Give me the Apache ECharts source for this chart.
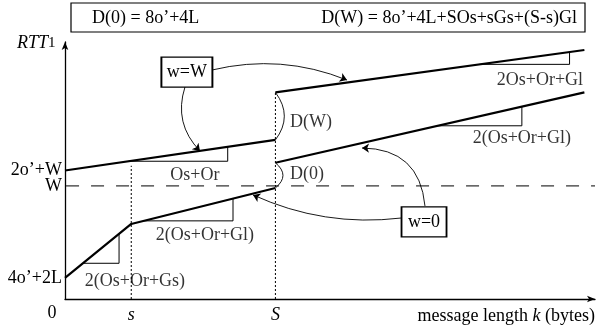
<!DOCTYPE html>
<html><head><meta charset="utf-8">
<script src="https://cdn.jsdelivr.net/npm/echarts@6/dist/echarts.min.js"></script>
<style>html,body{margin:0;padding:0;background:#fff}#c{width:597px;height:331px}</style>
</head><body><div id="c"></div>
<script>
const FONT = "'Liberation Serif','Times New Roman',serif";

// axis ticks
const xTickValues = [12.5, 39.7];
const xTickLabels = ['s', 'S'];
const yTickValues = [8.2, 44.0];
const yTickLabels = ['4o\u2019+2L', 'W'];
const yTickValuesUpper = [50.0];
const yTickLabelsUpper = ['2o\u2019+W'];

// curves: w = 0 (lower) and w = W (upper)
const lowerBeforeS = [[0, 8.2], [12.5, 29.2], [39.7, 43.2]];
const lowerAfterS  = [[39.7, 53.0], [98, 80.4]];
const upperBeforeS = [[0, 50.0], [39.7, 61.9]];
const upperAfterS  = [[39.7, 80.4], [98, 96.9]];
const wLine = [[0.2, 44.0], [100, 44.0]];
const dropS_small = [[12.5, 0], [12.5, 51.8]];
const dropS_large = [[39.7, 0], [39.7, 80.4]];

// slope triangles
const slopeTriangles = [
  [[3.4, 13.9], [10.2, 13.9], [10.2, 25.3]],
  [[14.8, 30.4], [31.7, 30.4], [31.7, 39.1]],
  [[12.0, 53.6], [30.7, 53.6], [30.7, 59.2]],
  [[70.3, 67.4], [86.2, 67.4], [86.2, 74.8]],
  [[78.2, 91.3], [95.2, 91.3], [95.2, 96.1]]
];
const slopeLabels = ['2(Os+Or+Gs)', '2(Os+Or+Gl)', 'Os+Or', '2(Os+Or+Gl)', '2Os+Or+Gl'];
const slopeLabelPos = [[13.2, 7.0], [26.4, 24.9], [24.5, 48.2], [86.2, 62.6], [89.6, 85.2]];

// jump braces at S
const braceLabels = ['D(W)', 'D(0)'];
const braceCoords = [[[39.7, 80.4], [39.7, 61.9]], [[39.7, 53.0], [39.7, 43.2]]];
const braceCurve = [0.375, 0.6];
const braceLabelPos = [[42.45, 68.9], [42.45, 48.6]];

// boxes and arrows
const boxLabels = ['w=W', 'w=0'];
const boxPos = [[23.0, 88.3], [67.74, 30.0]];
const boxSize = [[51, 30], [45, 30]];
const arrowCoords = [
  [[27.74, 89.1], [53.2, 85.2]],
  [[22.64, 82.5], [25.47, 57.6]],
  [[63.4, 31.5], [35.47, 40.5]],
  [[67.92, 36.2], [56.04, 58.75]]
];
const arrowCurve = [0.16, -0.3, 0.14, -0.45];

const chart = echarts.init(document.getElementById('c'), null, {renderer: 'canvas'});
const thick = {color: '#000', width: 2.2};
const thin = {color: '#000', width: 1};

function lineSeries(data, style, z) {
  return {type: 'line', data: data, symbol: 'none', lineStyle: style, z: z || 2, silent: true, animation: false};
}

const series = [
  lineSeries(lowerBeforeS, thick, 3),
  lineSeries(lowerAfterS, thick, 3),
  lineSeries(upperBeforeS, thick, 3),
  lineSeries(upperAfterS, thick, 3),
  lineSeries(wLine, {color: '#000', width: 1, type: [13, 12]}, 1),
  lineSeries(dropS_small, {color: '#000', width: 1, type: [2, 2]}, 1),
  lineSeries(dropS_large, {color: '#000', width: 1, type: [2, 2]}, 1)
];
slopeTriangles.forEach(t => series.push(lineSeries(t, thin, 2)));
series.push({
  type: 'lines', coordinateSystem: 'cartesian2d', silent: true, animation: false,
  symbol: ['none', 'arrow'], symbolSize: 7, z: 4,
  lineStyle: {color: '#000', width: 0.9, opacity: 1},
  data: arrowCoords.map((c, i) => ({coords: c, lineStyle: {curveness: arrowCurve[i]}}))
});
series.push({
  type: 'lines', coordinateSystem: 'cartesian2d', silent: true, animation: false,
  symbol: 'none', z: 4,
  lineStyle: {color: '#000', width: 0.9, opacity: 1},
  data: braceCoords.map((c, i) => ({coords: c, lineStyle: {curveness: braceCurve[i]}}))
});
series.push({
  type: 'scatter', symbolSize: 0, silent: true, animation: false, z: 5,
  label: {show: true, position: 'inside', formatter: '{b}', color: '#000', fontFamily: FONT, fontSize: 18},
  data: slopeLabels.map((t, i) => ({name: t, value: slopeLabelPos[i]}))
    .concat(braceLabels.map((t, i) => ({name: t, value: braceLabelPos[i], label: {position: 'right', distance: 0}})))
});
series.push({
  type: 'scatter', symbol: 'rect', silent: true, animation: false, z: 6,
  itemStyle: {color: '#fff', borderColor: '#000', borderWidth: 1.5, opacity: 1},
  label: {show: true, position: 'inside', formatter: '{b}', color: '#000', fontFamily: FONT, fontSize: 18},
  data: boxLabels.map((t, i) => ({name: t, value: boxPos[i], symbolSize: boxSize[i]}))
});

function lookup(vals, labels, v) {
  for (let i = 0; i < vals.length; i++) if (Math.abs(vals[i] - v) < 1e-6) return labels[i];
  return '';
}

const yLabelStyle = {margin: 3, color: '#000', fontFamily: FONT, fontSize: 18, hideOverlap: false};

const option = {
  animation: false,
  backgroundColor: '#fff',
  grid: {left: 65, right: 2, top: 42, bottom: 32, containLabel: false},
  xAxis: {
    type: 'value', min: 0, max: 100,
    axisLine: {show: true, lineStyle: {color: '#000', width: 1.3}, symbol: ['none', 'arrow'], symbolSize: [5, 8]},
    axisTick: {show: false}, splitLine: {show: false},
    axisLabel: {customValues: xTickValues, margin: 7, color: '#000', fontFamily: FONT, fontSize: 18, fontStyle: 'italic',
      formatter: v => lookup(xTickValues, xTickLabels, v)}
  },
  yAxis: [{
    type: 'value', min: 0, max: 100,
    axisLine: {show: true, lineStyle: {color: '#000', width: 1.3}, symbol: ['none', 'arrow'], symbolSize: [5, 8]},
    axisTick: {show: false}, splitLine: {show: false},
    axisLabel: Object.assign({customValues: yTickValues, formatter: v => lookup(yTickValues, yTickLabels, v)}, yLabelStyle)
  }, {
    type: 'value', min: 0, max: 100, position: 'left', offset: 0,
    axisLine: {show: false}, axisTick: {show: false}, splitLine: {show: false},
    axisLabel: Object.assign({customValues: yTickValuesUpper, formatter: v => lookup(yTickValuesUpper, yTickLabelsUpper, v)}, yLabelStyle)
  }],
  graphic: [
    {type: 'rect', z: 10, shape: {x: 71, y: 3, width: 514, height: 29}, style: {fill: '#fff', stroke: '#000', lineWidth: 1.2}},
    {type: 'text', z: 11, x: 92, y: 18, style: {text: 'D(0) = 8o\u2019+4L', fill: '#000', font: '18px ' + FONT, verticalAlign: 'middle', align: 'left'}},
    {type: 'text', z: 11, x: 577, y: 18, style: {text: 'D(W) = 8o\u2019+4L+SOs+sGs+(S-s)Gl', fill: '#000', font: '18px ' + FONT, verticalAlign: 'middle', align: 'right'}},
    {type: 'text', z: 11, x: 17, y: 43, style: {text: '{i|RTT}{n|1}', verticalAlign: 'middle', align: 'left',
      rich: {i: {fontFamily: FONT, fontSize: 18, fontStyle: 'italic', fill: '#000'}, n: {fontFamily: FONT, fontSize: 15, fill: '#000'}}}},
    {type: 'text', z: 11, x: 52, y: 313, style: {text: '0', fill: '#000', font: '18px ' + FONT, verticalAlign: 'middle', align: 'center'}},
    {type: 'text', z: 11, x: 595, y: 316, style: {text: '{n|message length }{i|k}{n| (bytes)}', verticalAlign: 'middle', align: 'right',
      rich: {i: {fontFamily: FONT, fontSize: 18, fontStyle: 'italic', fill: '#000'}, n: {fontFamily: FONT, fontSize: 18, fill: '#000'}}}}
  ],
  series: series
};
chart.setOption(option);
</script>
</body></html>
